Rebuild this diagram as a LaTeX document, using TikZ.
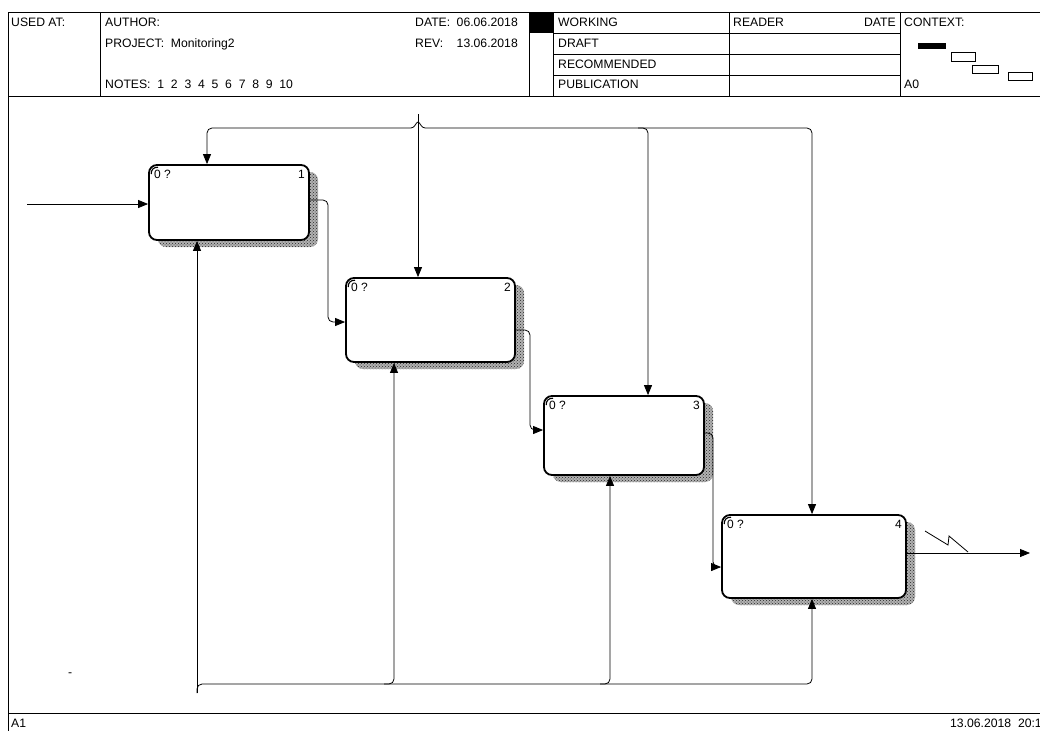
\documentclass[tikz,border=0pt]{standalone}
\usepackage{fontspec}
\setmainfont{Liberation Sans}
\usetikzlibrary{arrows.meta,patterns}
\newcommand\idefbox[6]{%
  \fill[shadowbase] (#2+9,#3+7) rectangle (#4+9,#5+7);
  \fill[shadowfill] (#2+9,#3+7) rectangle (#4+9,#5+7);
  \node[idef, minimum width={#4pt-#2pt}, minimum height={#5pt-#3pt}] (#1) at ({(#2+#4)/2},{(#3+#5)/2}) {};
  \draw[line width=1.1pt] (#2+2.2,#3+9) .. controls (#2+2.2,#3+4.5) and (#2+4.5,#3+2.2) .. (#2+9,#3+2.2);
  \node[lbl, anchor=north west] (#1q) at (#2+5,#3+5) {0 ?};
  \node[lbl, anchor=north east] (#1n) at (#4-4,#3+5) {#6};
}
\begin{document}
\begin{tikzpicture}[x=1pt,y=-1pt,
  txt/.style={font=\fontsize{12.2}{14}\selectfont, inner sep=0pt, anchor=base west},
  frame/.style={line width=0.8pt},
  idef/.style={draw, line width=1.8pt, rounded corners=8pt, fill=white, inner sep=0pt},
  shadowbase/.style={fill=black!30, rounded corners=8pt},
  shadowfill/.style={pattern=crosshatch dots, pattern color=black!85, rounded corners=8pt},
  conn/.style={line width=0.8pt},
  arr/.style={conn, -{Triangle[length=10pt,width=8pt]}},
  lbl/.style={font=\fontsize{12}{14}\selectfont, inner sep=0pt}
]
\useasboundingbox (0,0) rectangle (1040,731);
\fill[white] (0,0) rectangle (1040,731);

% ---------- header frame ----------
\draw[frame] (8,12) -- (1040,12);
\draw[frame] (8,96) -- (1040,96);
\draw[frame] (8,12) -- (8,731);
\draw[frame] (8,713) -- (1040,713);
\foreach \xx in {100,529,553,729,900} \draw[frame] (\xx,12) -- (\xx,96);
\foreach \yy in {33,54,75} \draw[frame] (553,\yy) -- (900,\yy);
\fill[black] (529,12) rectangle (553,33);
% context thumbnails
\fill[black] (918,43) rectangle (946,49);
\draw[conn] (951,52) rectangle (975,61);
\draw[conn] (972,65) rectangle (998,73);
\draw[conn] (1008,72) rectangle (1032,80);

% ---------- header texts ----------
\node[txt] (usedat) at (11,26) {USED AT:};
\node[txt] (author) at (105,26) {AUTHOR:};
\node[txt] (project) at (105,47) {PROJECT:\ \ Monitoring2};
\node[txt] (notes) at (105,88) {NOTES:\ \ 1\ \ 2\ \ 3\ \ 4\ \ 5\ \ 6\ \ 7\ \ 8\ \ 9\ \ 10};
\node[txt] (datek) at (415,26) {DATE:};
\node[txt, anchor=base east] (datev) at (518,26) {06.06.2018};
\node[txt] (revk) at (415,47) {REV:};
\node[txt, anchor=base east] (revv) at (518,47) {13.06.2018};
\node[txt] (working) at (558,26) {WORKING};
\node[txt] (draft) at (558,47) {DRAFT};
\node[txt] (recom) at (558,68) {RECOMMENDED};
\node[txt] (publ) at (558,88) {PUBLICATION};
\node[txt] (reader) at (733,26) {READER};
\node[txt, anchor=base east] (rdate) at (896,26) {DATE};
\node[txt] (context) at (904,26) {CONTEXT:};
\node[txt] (a0) at (904,88) {A0};
\node[txt] (a1) at (11,727) {A1};
\node[txt] (stamp) at (950,727) {13.06.2018\ \ 20:1};
\node[txt] (dash) at (68,676) {-};

% ---------- activity boxes ----------
\idefbox{b1}{149}{165}{309}{240}{1}
\idefbox{b2}{346}{278}{515}{362}{2}
\idefbox{b3}{544}{396}{704}{475}{3}
\idefbox{b4}{722}{515}{906}{598}{4}

% ---------- inputs / outputs ----------
\coordinate (in1) at (27,204);
\draw[arr] (in1) -- (in1 -| b1.west);
\draw[arr, rounded corners=5pt] (b1.east |- 0,200) -- (328,200) -- (328,322) -- (b2.west |- 0,322);
\draw[arr, rounded corners=5pt] (b2.east |- 0,330) -- (530,330) -- (530,430) -- (b3.west |- 0,430);
\draw[arr, rounded corners=5pt] (b3.east |- 0,433) -- (713,433) -- (713,567) -- (b4.west |- 0,567);
\coordinate (out4) at (1030,553);
\draw[arr] (b4.east |- out4) -- (out4);
\draw[conn] (925,531) -- (948,545) -- (949,536) -- (968,552);

% ---------- controls ----------
\coordinate (ctop) at (418,114);
\coordinate (c1) at (207,128);
\coordinate (c3) at (648,128);
\coordinate (c4) at (812,128);
\draw[arr] (ctop) -- (ctop |- b2.north);
\draw[arr, rounded corners=5pt] (411,128) -- (c1) -- (c1 |- b1.north);
\draw[conn] (411,128) .. controls (415,128) and (416,122) .. (418,122) .. controls (420,122) and (421,128) .. (425,128);
\draw[arr, rounded corners=5pt] (425,128) -- (c4) -- (c4 |- b4.north);
\draw[arr, rounded corners=5pt] (638,128) -- (c3) -- (c3 |- b3.north);

% ---------- mechanisms ----------
\coordinate (mb) at (197,693);
\coordinate (m2) at (394,684);
\coordinate (m3) at (610,684);
\coordinate (m4) at (812,684);
\draw[arr] (mb) -- (mb |- b1.south);
\draw[arr, rounded corners=5pt] (mb) -- (197,684) -- (m4) -- (m4 |- b4.south);
\draw[arr, rounded corners=5pt] (384,684) -- (m2) -- (m2 |- b2.south);
\draw[arr, rounded corners=5pt] (600,684) -- (m3) -- (m3 |- b3.south);
\end{tikzpicture}
\end{document}
